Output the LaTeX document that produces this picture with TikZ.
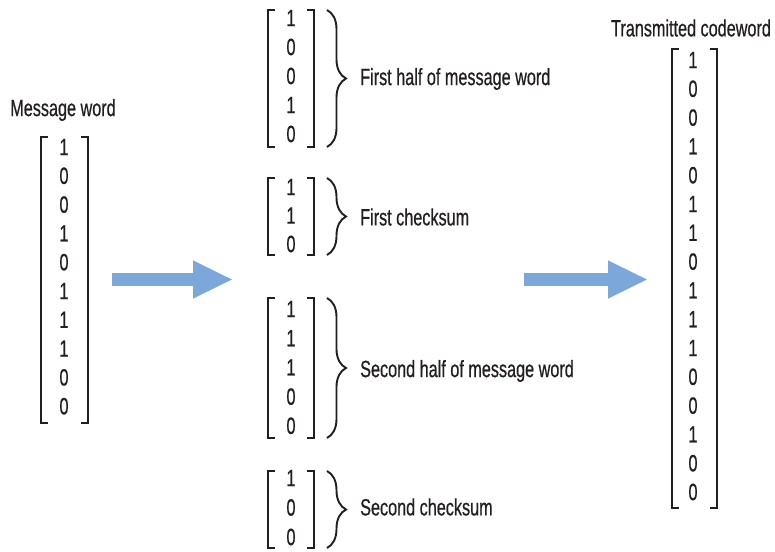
\documentclass[tikz,border=0pt]{standalone}
\usepackage{fontspec}
\setmainfont{Liberation Sans}[FakeStretch=0.69, FakeBold=0.6]
\usepackage{tikz}
\usetikzlibrary{arrows.meta, decorations.pathreplacing}
\definecolor{ink}{RGB}{35,31,32}
\definecolor{arrowblue}{RGB}{123,167,218}

\tikzset{
    bit/.style={font=\fontsize{23.5}{26}\selectfont, text=ink, inner sep=0pt},
    caption/.style={font=\fontsize{23.5}{26}\selectfont, text=ink, inner sep=0pt},
    bracket/.style={draw=ink, line width=1.9pt},
    curly/.style={draw=ink, line width=1.9pt, decorate, decoration={brace, amplitude=19pt}},
    bigarrow/.style={draw=arrowblue, line width=13pt, -{Triangle[length=40pt, width=35pt]}}
}

\begin{document}
\begin{tikzpicture}[x=1pt, y=-1pt]
    \useasboundingbox (0,0) rectangle (775,551);

    % Message word
    \node[caption] (msg-title) at (63,110) {Message word};
    \foreach \b [count=\i] in {1,0,0,1,0,1,1,1,0,0}
        \node[bit] (msg-\i) at (64,{147+28.8*(\i-1)}) {\b};
    \draw[bracket] (48,137) -- (41,137) -- (41,423) -- (48,423);
    \draw[bracket] (81,137) -- (88,137) -- (88,423) -- (81,423);

    % Arrow to the split word
    \coordinate (arrA-start) at (112,279.5);
    \coordinate (arrA-end) at (233,279.5);
    \draw[bigarrow] (arrA-start) -- (arrA-end);

    % First half of message word
    \foreach \b [count=\i] in {1,0,0,1,0}
        \node[bit] (half1-\i) at (291,{18+29*(\i-1)}) {\b};
    \draw[bracket] (275,10) -- (268,10) -- (268,147) -- (275,147);
    \draw[bracket] (307,10) -- (314,10) -- (314,147) -- (307,147);
    \draw[curly] (327,10) -- (327,147);
    \node[caption, anchor=west] (half1-text) at (360,79) {First half of message word};

    % First checksum
    \foreach \b [count=\i] in {1,1,0}
        \node[bit] (chk1-\i) at (291,{187+28.5*(\i-1)}) {\b};
    \draw[bracket] (275,178) -- (268,178) -- (268,255) -- (275,255);
    \draw[bracket] (307,178) -- (314,178) -- (314,255) -- (307,255);
    \draw[curly] (327,178) -- (327,255);
    \node[caption, anchor=west] (chk1-text) at (360,217) {First checksum};

    % Second half of message word
    \foreach \b [count=\i] in {1,1,1,0,0}
        \node[bit] (half2-\i) at (291,{309+29.2*(\i-1)}) {\b};
    \draw[bracket] (275,298) -- (268,298) -- (268,438) -- (275,438);
    \draw[bracket] (307,298) -- (314,298) -- (314,438) -- (307,438);
    \draw[curly] (327,298) -- (327,438);
    \node[caption, anchor=west] (half2-text) at (360,371) {Second half of message word};

    % Second checksum
    \foreach \b [count=\i] in {1,0,0}
        \node[bit] (chk2-\i) at (291,{478+29.5*(\i-1)}) {\b};
    \draw[bracket] (275,471) -- (268,471) -- (268,548) -- (275,548);
    \draw[bracket] (307,471) -- (314,471) -- (314,548) -- (307,548);
    \draw[curly] (327,471) -- (327,548);
    \node[caption, anchor=west] (chk2-text) at (360,507) {Second checksum};

    % Arrow to the codeword
    \coordinate (arrB-start) at (524,279.5);
    \coordinate (arrB-end) at (648,279.5);
    \draw[bigarrow] (arrB-start) -- (arrB-end);

    % Transmitted codeword
    \node[caption] (code-title) at (691,28) {Transmitted codeword};
    \foreach \b [count=\i] in {1,0,0,1,0,1,1,0,1,1,1,0,0,1,0,0}
        \node[bit] (code-\i) at (693,{60+28.8*(\i-1)}) {\b};
    \draw[bracket] (679,49) -- (672,49) -- (672,508) -- (679,508);
    \draw[bracket] (710,49) -- (717,49) -- (717,508) -- (710,508);
\end{tikzpicture}
\end{document}
